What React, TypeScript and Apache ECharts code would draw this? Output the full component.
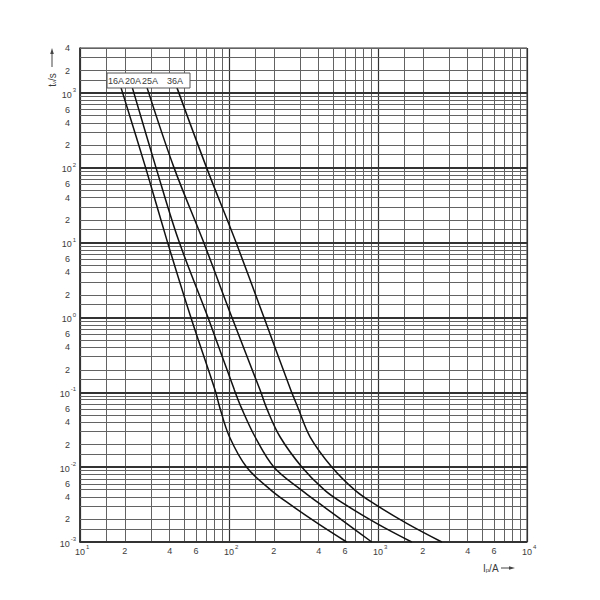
import React, { useEffect, useRef } from 'react';
import * as echarts from 'echarts';

// ---- data (current I in A, pre-arcing time t in s) ----
const SERIES_NAMES = ['16A', '20A', '25A', '36A'];

const FUSE_16A: [number, number][] = [
  [18.8, 1200], [27.6, 100], [38.2, 11], [55.5, 1.0], [80.5, 0.108], [87.1, 0.061],
  [100.7, 0.0255], [131.4, 0.01], [192, 0.0049], [250, 0.0033], [396, 0.00176], [616, 0.001],
];
const FUSE_20A: [number, number][] = [
  [22.4, 1200], [32.4, 100], [45.7, 11], [72.3, 1.0], [108.6, 0.108], [121.6, 0.061],
  [149.5, 0.0255], [200.4, 0.01], [308, 0.0049], [401.6, 0.0033], [617, 0.00176], [908, 0.001],
];
const FUSE_25A: [number, number][] = [
  [28.1, 1200], [42.8, 100], [66.5, 11], [104.7, 1.0], [161.4, 0.108], [179.1, 0.061],
  [219.9, 0.0255], [308.9, 0.01], [440, 0.0049], [582, 0.0033], [985, 0.00176], [1683, 0.001],
];
const FUSE_36A: [number, number][] = [
  [44.6, 1200], [70.8, 100], [109.6, 11], [171.8, 1.0], [259.4, 0.108], [291.6, 0.061],
  [349.8, 0.0255], [491, 0.01], [703, 0.0049], [929, 0.0033], [1570, 0.00176], [2679, 0.001],
];
const SERIES_DATA = [FUSE_16A, FUSE_20A, FUSE_25A, FUSE_36A];

// ---- axes / ticks ----
const X_MIN = 10;
const X_MAX = 10000;
const Y_MIN = 0.001;
const Y_MAX = 4000;
const GRID_MULTIPLIERS = [1.5, 2, 3, 4, 5, 6, 7, 8, 9];
const X_DECADES = [10, 100, 1000, 10000];
const Y_DECADES = [0.001, 0.01, 0.1, 1, 10, 100, 1000];
const X_LABELLED = [20, 40, 60, 200, 400, 600, 2000, 4000, 6000];
const Y_LABELLED = [
  0.002, 0.004, 0.006, 0.02, 0.04, 0.06, 0.2, 0.4, 0.6, 2, 4, 6,
  20, 40, 60, 200, 400, 600, 2000, 4000,
];

const FONT = 'Liberation Sans';
const TEXT_COLOR = '#3c3c3c';
const LEGEND_TEXT_X = [108, 125, 142, 167];

const inList = (v: number, list: number[]) => list.some((u) => Math.abs(u - v) < u * 1e-6);
const mant = (v: number) =>
  String(Math.round(v / Math.pow(10, Math.floor(Math.log10(v) + 1e-9))));
const expOf = (v: number) => Math.round(Math.log10(v));

function buildOption() {
  const labelBase = { color: TEXT_COLOR, fontSize: 9, fontFamily: FONT };
  const decadeRich = {
    p: { width: 4.5, fontSize: 9 },
    b: { fontSize: 9, color: TEXT_COLOR, fontFamily: FONT, padding: [3, 0, 0, 0] },
    e: { fontSize: 6, color: TEXT_COLOR, fontFamily: FONT, verticalAlign: 'top', padding: [0, 0, 0, 1] },
  };
  const minorStyle = { color: '#636363', width: 1, type: 'solid' };

  const xLines: any[] = [];
  X_DECADES.forEach((d) => {
    xLines.push({
      xAxis: d,
      lineStyle: { color: '#333', width: 1.2, type: 'solid' },
      label: {
        show: true, position: 'start', distance: 2,
        formatter: `{p|}{b|10}{e|${expOf(d)}}`, rich: decadeRich, ...labelBase,
      },
    });
    if (d >= X_MAX) return;
    GRID_MULTIPLIERS.forEach((m) => {
      const v = d * m;
      const lab = inList(v, X_LABELLED);
      xLines.push({
        xAxis: v,
        lineStyle: minorStyle,
        label: lab
          ? { show: true, position: 'start', distance: 4, formatter: mant(v), ...labelBase }
          : { show: false },
      });
    });
  });

  const yLines: any[] = [];
  Y_DECADES.forEach((d) => {
    yLines.push({
      yAxis: d,
      lineStyle: { color: '#333', width: 2, type: 'solid' },
      label: {
        show: true, position: 'start', distance: 4,
        formatter: `{b|10}{e|${expOf(d)}}`, rich: decadeRich, ...labelBase,
      },
    });
    GRID_MULTIPLIERS.forEach((m) => {
      const v = d * m;
      if (v > Y_MAX * (1 + 1e-9)) return;
      const lab = inList(v, Y_LABELLED);
      yLines.push({
        yAxis: v,
        lineStyle: minorStyle,
        label: lab
          ? { show: true, position: 'start', distance: 10, formatter: mant(v), ...labelBase }
          : { show: false },
      });
    });
  });

  const curveSeries = SERIES_NAMES.map((name, i) => ({
    type: 'line',
    name,
    data: SERIES_DATA[i],
    showSymbol: false,
    symbol: 'none',
    smooth: 0.35,
    clip: false,
    z: 10,
    lineStyle: { color: '#111', width: 1.5 },
  }));

  return {
    animation: false,
    backgroundColor: '#fff',
    grid: {
      left: 80,
      right: 73,
      top: 48,
      bottom: 58,
      show: true,
      borderColor: '#333',
      borderWidth: 1,
      backgroundColor: 'transparent',
    },
    xAxis: {
      type: 'log',
      logBase: 10,
      min: X_MIN,
      max: X_MAX,
      axisLine: { show: true, lineStyle: { color: '#222', width: 1.5 } },
      axisTick: { show: false },
      splitLine: { show: false },
      axisLabel: { show: false },
    },
    yAxis: {
      type: 'log',
      logBase: 10,
      min: Y_MIN,
      max: Y_MAX,
      axisLine: { show: true, lineStyle: { color: '#222', width: 1.5 } },
      axisTick: { show: false },
      splitLine: { show: false },
      axisLabel: { show: false },
    },
    series: [
      {
        type: 'line',
        name: 'grid',
        data: [],
        silent: true,
        z: 1,
        markLine: {
          silent: true,
          z: 1,
          precision: 10,
          symbol: ['none', 'none'],
          animation: false,
          data: [...xLines, ...yLines],
        },
      },
      ...curveSeries,
    ],
    graphic: [
      {
        type: 'rect',
        z: 100,
        shape: { x: 107, y: 73, width: 83, height: 15 },
        style: { fill: '#fff', stroke: '#555', lineWidth: 1 },
      },
      ...SERIES_NAMES.map((n, i) => ({
        type: 'text',
        z: 101,
        x: LEGEND_TEXT_X[i],
        y: 81,
        style: {
          text: n,
          fontSize: 9,
          fontFamily: FONT,
          fill: TEXT_COLOR,
          align: 'left',
          verticalAlign: 'middle',
        },
      })),
      {
        type: 'text',
        x: 52,
        y: 80,
        rotation: Math.PI / 2,
        style: {
          text: 't{sub|v}/s',
          fontSize: 10,
          fontFamily: FONT,
          fill: TEXT_COLOR,
          align: 'center',
          verticalAlign: 'middle',
          rich: { sub: { fontSize: 6, fontFamily: FONT, fill: TEXT_COLOR, verticalAlign: 'bottom', padding: [4, 0, 0, 0] } },
        },
      },
      { type: 'line', shape: { x1: 52, y1: 67, x2: 52, y2: 53 }, style: { stroke: '#444', lineWidth: 1 } },
      { type: 'polygon', shape: { points: [[52, 48], [50.2, 54], [53.8, 54]] }, style: { fill: '#444' } },
      {
        type: 'text',
        x: 483,
        y: 568,
        style: {
          text: 'I{sub|p}/A',
          fontSize: 10,
          fontFamily: FONT,
          fill: TEXT_COLOR,
          align: 'left',
          verticalAlign: 'middle',
          rich: { sub: { fontSize: 6, fontFamily: FONT, fill: TEXT_COLOR, verticalAlign: 'bottom', padding: [4, 0, 0, 0] } },
        },
      },
      { type: 'line', shape: { x1: 501, y1: 568, x2: 510, y2: 568 }, style: { stroke: '#444', lineWidth: 1 } },
      { type: 'polygon', shape: { points: [[515, 568], [509, 566.2], [509, 569.8]] }, style: { fill: '#444' } },
    ],
  };
}

export default function App() {
  const ref = useRef<HTMLDivElement>(null);
  useEffect(() => {
    if (!ref.current) return;
    const chart = echarts.init(ref.current, undefined, { renderer: 'svg' });
    chart.setOption(buildOption() as any);
    return () => chart.dispose();
  }, []);
  return (
    <div
      ref={ref}
      style={{ position: 'absolute', left: 0, top: 0, width: 600, height: 600, background: '#fff' }}
    />
  );
}
